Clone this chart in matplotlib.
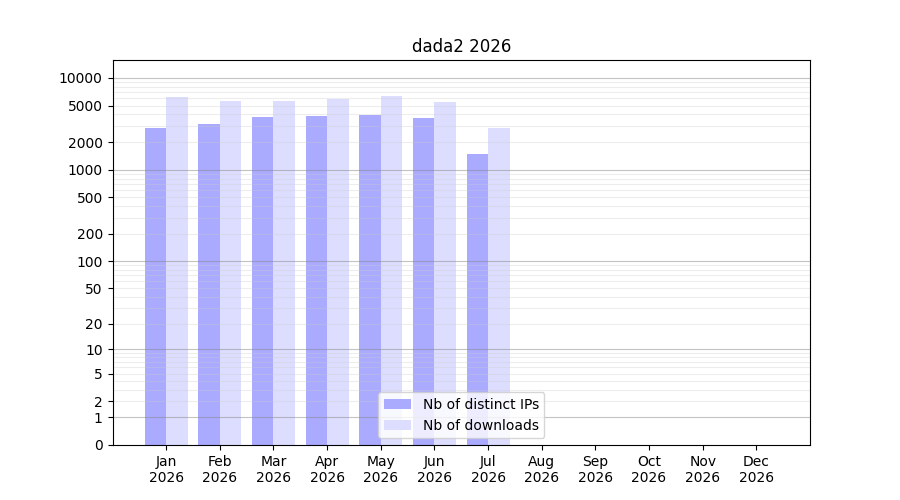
import matplotlib
matplotlib.use("Agg")
import matplotlib.pyplot as plt
import numpy as np

months = ["Jan", "Feb", "Mar", "Apr", "May", "Jun", "Jul", "Aug", "Sep", "Oct", "Nov", "Dec"]
year = "2026"
distinct_ips = [2870, 3175, 3780, 3870, 3970, 3690, 1500, 0, 0, 0, 0, 0]
downloads = [6220, 5640, 5640, 5920, 6380, 5500, 2870, 0, 0, 0, 0, 0]
ytick_values = [0, 1, 2, 5, 10, 20, 50, 100, 200, 500, 1000, 2000, 5000, 10000]
major_grid = [1, 10, 100, 1000, 10000]
minor_grid = [m * 10**k for k in range(0, 4) for m in range(2, 10)]

fig, ax = plt.subplots(figsize=(9, 5), dpi=100)
ax.set_yscale("function", functions=(lambda v: np.log10(1 + np.clip(v, 0, None)),
                                     lambda y: 10**y - 1))
x = np.arange(1, len(months) + 1)
ax.bar(x, distinct_ips, width=-0.4, align="edge", color="#aaaaff", label="Nb of distinct IPs", zorder=1)
ax.bar(x, downloads, width=0.4, align="edge", color="#ddddff", label="Nb of downloads", zorder=1)

for v in minor_grid:
    ax.axhline(v, color="#cccccc", lw=0.8, alpha=0.35, zorder=2)
for v in major_grid:
    ax.axhline(v, color="#888888", lw=0.8, alpha=0.5, zorder=2)

ax.set_xlim(0, 13)
ax.set_ylim(0, 15700)
ax.set_xticks(x)
ax.set_xticklabels([f"{m}\n{year}" for m in months])
ax.set_yticks(ytick_values)
ax.set_yticklabels([str(v) for v in ytick_values])
ax.minorticks_off()
ax.set_title("dada2 2026")
ax.legend(loc="lower center")
fig.savefig("out.png", dpi=100)
